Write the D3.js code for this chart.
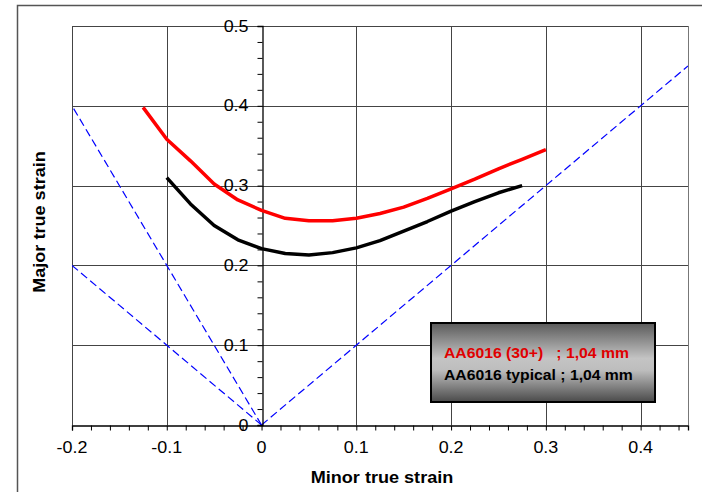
<!DOCTYPE html>
<html><head><meta charset="utf-8">
<script src="https://cdn.jsdelivr.net/npm/d3@7"></script>
<style>body{margin:0;background:#fff}svg{display:block}</style></head>
<body><svg id="c" width="702" height="492"></svg>
<script>
// ---- data ----
const xTickValues = [-0.2, -0.1, 0, 0.1, 0.2, 0.3, 0.4];
const yTickValues = [0, 0.1, 0.2, 0.3, 0.4, 0.5];
const xTickLabels = ["-0.2", "-0.1", "0", "0.1", "0.2", "0.3", "0.4"];
const yTickLabels = ["0", "0.1", "0.2", "0.3", "0.4", "0.5"];

const redMinor   = [-0.125, -0.1, -0.075, -0.05, -0.025, 0, 0.025, 0.05, 0.075, 0.1, 0.125, 0.15, 0.175, 0.2, 0.225, 0.25, 0.275, 0.3];
const redMajor   = [0.398, 0.358, 0.331, 0.302, 0.282, 0.269, 0.259, 0.256, 0.256, 0.259, 0.265, 0.273, 0.284, 0.296, 0.308, 0.321, 0.333, 0.345];
const blackMinor = [-0.1, -0.075, -0.05, -0.025, 0, 0.025, 0.05, 0.075, 0.1, 0.125, 0.15, 0.175, 0.2, 0.225, 0.25, 0.275];
const blackMajor = [0.31, 0.277, 0.25, 0.232, 0.221, 0.215, 0.213, 0.216, 0.222, 0.231, 0.243, 0.255, 0.268, 0.28, 0.291, 0.300];

// guide lines from origin (dashed blue)
const guideEndX = [-0.2, -0.2, 0.45];
const guideEndY = [0.4, 0.2, 0.45];

const legendLabels = ["AA6016 (30+)   ; 1,04 mm", "AA6016 typical ; 1,04 mm"];
const legendColors = ["#e00000", "#000000"];
const xTitle = "Minor true strain";
const yTitle = "Major true strain";

// ---- drawing ----
const svg = d3.select("#c");
const L = 72, R = 688, T = 26, B = 425;
const x = d3.scaleLinear().domain([-0.2, 0.45]).range([L, R]);
const y = d3.scaleLinear().domain([0, 0.5]).range([B, T]);

// outer frame
svg.append("rect").attr("x", 17.5).attr("y", 5.5).attr("width", 720).attr("height", 520)
  .attr("fill", "none").attr("stroke", "#555").attr("stroke-width", 1.5);

const defs = svg.append("defs");
defs.append("clipPath").attr("id", "clip").append("rect")
  .attr("x", L).attr("y", T).attr("width", R - L).attr("height", B - T);
const grad = defs.append("linearGradient").attr("id", "lg").attr("x1", 0).attr("y1", 0).attr("x2", 0).attr("y2", 1);
grad.append("stop").attr("offset", "0%").attr("stop-color", "#5a5a5a");
grad.append("stop").attr("offset", "45%").attr("stop-color", "#c4c4c4");
grad.append("stop").attr("offset", "60%").attr("stop-color", "#bdbdbd");
grad.append("stop").attr("offset", "100%").attr("stop-color", "#4a4a4a");

// gridlines
const grid = svg.append("g").attr("stroke", "#444").attr("stroke-width", 1).attr("shape-rendering", "crispEdges");
grid.selectAll(".vx").data(xTickValues.filter(v => v !== 0)).join("line")
  .attr("x1", d => Math.round(x(d)) + 0.5).attr("x2", d => Math.round(x(d)) + 0.5).attr("y1", T).attr("y2", B);
grid.selectAll(".hy").data(yTickValues.filter(v => v !== 0)).join("line")
  .attr("x1", L).attr("x2", R).attr("y1", d => Math.round(y(d)) + 0.5).attr("y2", d => Math.round(y(d)) + 0.5);
grid.append("line").attr("x1", R + 0.5).attr("x2", R + 0.5).attr("y1", T).attr("y2", B).attr("stroke", "#777");

// guide dashed lines
svg.append("g").attr("clip-path", "url(#clip)").selectAll("line").data(guideEndX).join("line")
  .attr("x1", x(0)).attr("y1", y(0))
  .attr("x2", (d, i) => x(d)).attr("y2", (d, i) => y(guideEndY[i]))
  .attr("stroke", "#0000ff").attr("stroke-width", 1.2).attr("stroke-dasharray", "8,4");

// axes
const minorY = d3.range(0, 0.5001, 0.02);
const minorX = d3.range(-0.2, 0.4501, 0.02);
const yAxis = d3.axisLeft(y).tickValues(minorY).tickSize(5).tickFormat("");
const xAxis = d3.axisBottom(x).tickValues(minorX).tickSize(5).tickFormat("");
const gy = svg.append("g").attr("transform", `translate(${Math.round(x(0)) + 0.5},0)`).call(yAxis);
const gx = svg.append("g").attr("transform", `translate(0,${Math.round(y(0)) + 0.5})`).call(xAxis);
[gx, gy].forEach(g => {
  g.select(".domain").attr("stroke", "#000").attr("stroke-width", 1.3);
  g.selectAll(".tick line").attr("stroke", "#000");
});

function stext(sel, sx, rot) {
  sel.attr("transform", function () {
    const tx = +this.getAttribute("data-x"), ty = +this.getAttribute("data-y");
    return `translate(${tx},${ty})` + (rot ? ` rotate(${rot})` : "") + ` scale(${sx},1)`;
  });
}

// tick labels
svg.append("g").selectAll("text").data(yTickValues).join("text")
  .attr("data-x", x(0) - 13).attr("data-y", d => y(d) + 5.5)
  .attr("text-anchor", "end").attr("font-family", "Liberation Sans, Arial, sans-serif")
  .attr("font-size", 16).attr("fill", "#000")
  .text((d, i) => yTickLabels[i]).call(stext, 1.12);
svg.append("g").selectAll("text").data(xTickValues).join("text")
  .attr("data-x", d => x(d)).attr("data-y", 453)
  .attr("text-anchor", "middle").attr("font-family", "Liberation Sans, Arial, sans-serif")
  .attr("font-size", 16).attr("fill", "#000")
  .text((d, i) => xTickLabels[i]).call(stext, 1.12);

// axis titles
svg.append("text").attr("data-x", (x(-0.2) + x(0.45)) / 2 + 2).attr("data-y", 483)
  .attr("text-anchor", "middle").attr("font-family", "Liberation Sans, Arial, sans-serif")
  .attr("font-size", 16).attr("font-weight", "bold").text(xTitle).call(stext, 1.13);
svg.append("text").attr("data-x", 45).attr("data-y", 222)
  .attr("text-anchor", "middle").attr("font-family", "Liberation Sans, Arial, sans-serif")
  .attr("font-size", 16).attr("font-weight", "bold").text(yTitle).call(stext, 1.13, -90);

// series
const line = d3.line().x(d => x(d[0])).y(d => y(d[1]));
const series = [
  { xs: redMinor, ys: redMajor, color: "#ff0000" },
  { xs: blackMinor, ys: blackMajor, color: "#000000" }
];
svg.append("g").selectAll("path").data(series).join("path")
  .attr("d", s => line(s.xs.map((v, i) => [v, s.ys[i]])))
  .attr("fill", "none").attr("stroke", s => s.color).attr("stroke-width", 3.5)
  .attr("stroke-linejoin", "round").attr("stroke-linecap", "butt");

// legend
const lg = svg.append("g");
lg.append("rect").attr("x", 431).attr("y", 323).attr("width", 224).attr("height", 79)
  .attr("fill", "url(#lg)").attr("stroke", "#000").attr("stroke-width", 2);
lg.selectAll("text").data(legendLabels).join("text")
  .attr("data-x", 444).attr("data-y", (d, i) => 358 + i * 22)
  .attr("xml:space", "preserve").style("white-space", "pre")
  .attr("font-family", "Liberation Sans, Arial, sans-serif").attr("font-size", 15)
  .attr("font-weight", "bold").attr("fill", (d, i) => legendColors[i])
  .text(d => d).call(stext, 1.05);
</script></body></html>
